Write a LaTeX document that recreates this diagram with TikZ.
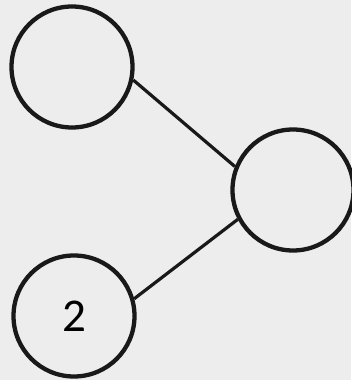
\documentclass[tikz,border=0pt]{standalone}
\usepackage{fontspec}
\setmainfont{Carlito}
\usepackage{tikz}
\usetikzlibrary{positioning}

\begin{document}
\begin{tikzpicture}[x=1pt,y=1pt,
  bubble/.style={draw=black!90,circle,line width=4.3pt,minimum size=121pt,inner sep=0pt,
    font=\fontsize{47}{50}\selectfont},
  link/.style={draw=black!90,line width=3.2pt}]
% scanned sheet background
\fill[black!7] (0,0) rectangle (351,380);
\useasboundingbox (0,0) rectangle (351,380);
% the three circles
\node[bubble] (top) at (72,313) {};
\node[bubble] (mid) at (293,190) {};
\node[bubble] (low) at (74,64) {2};
% connecting lines
\draw[link] (top.-12) -- (mid.158);
\draw[link] (low.16) -- (mid.208);
\end{tikzpicture}
\end{document}
